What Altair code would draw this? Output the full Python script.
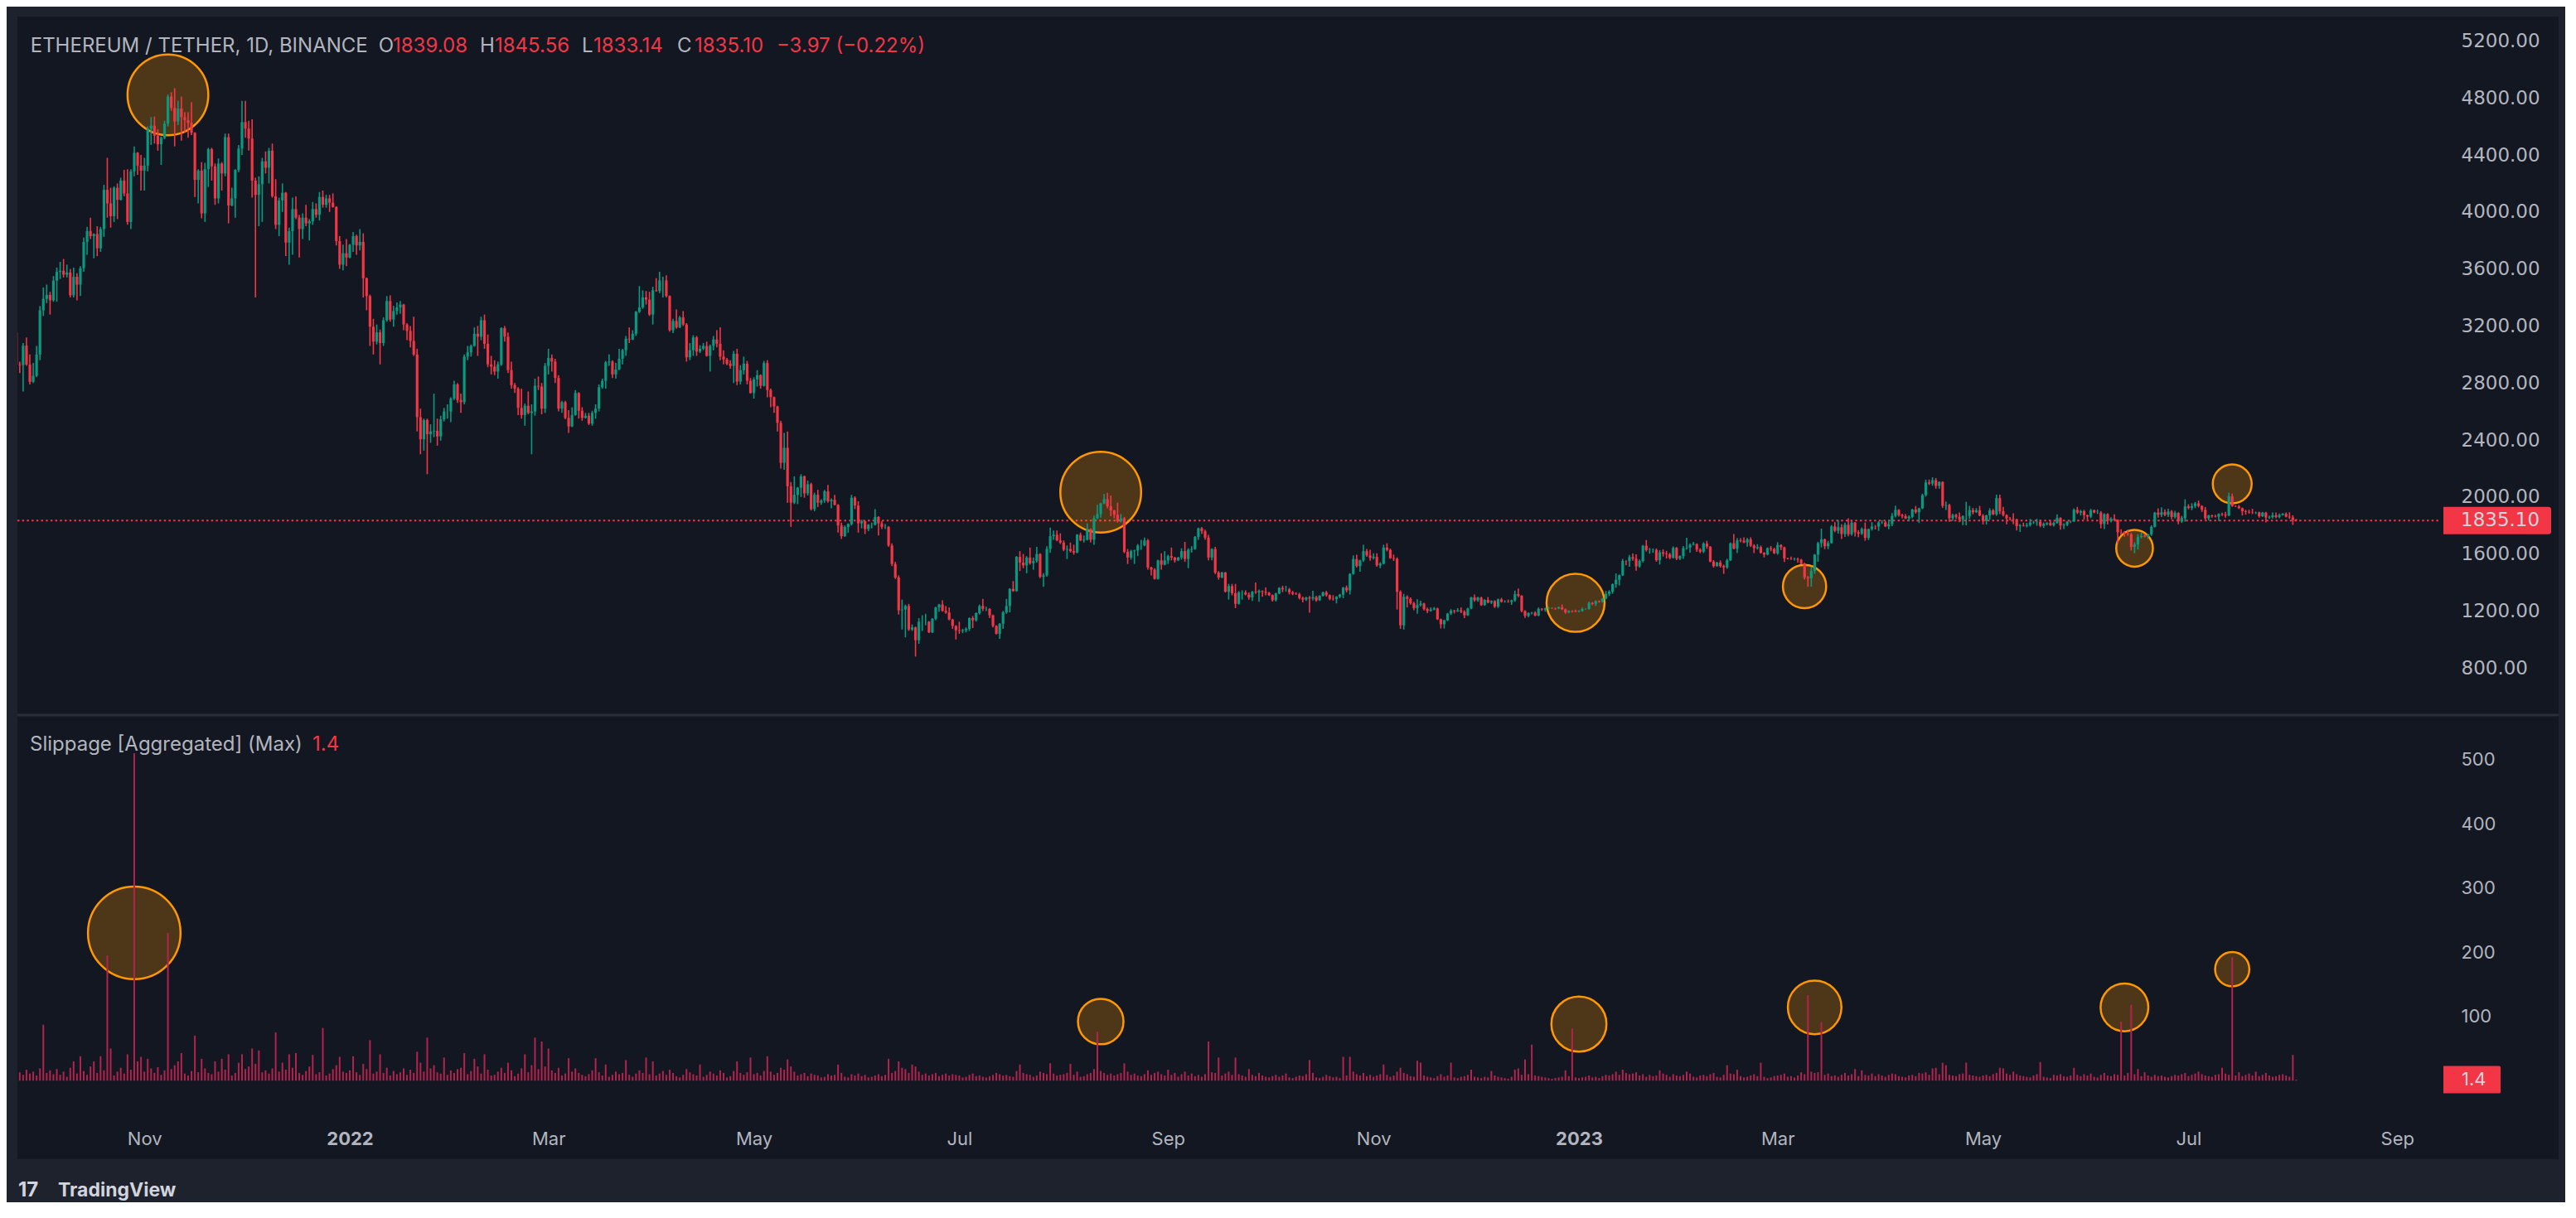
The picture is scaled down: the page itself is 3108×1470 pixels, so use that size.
import math
import altair as alt
import pandas as pd

# ------------------------------------------------------------------ data
# Daily ETH/USDT candles (Binance), 2021-09-24 .. 2023-08-02.
first_open = 3155
close = [
    # 2021 Sep 24-30
    2930, 2925, 3062, 2930, 2808, 2850, 3000,
    # 2021 Oct
    3310, 3390, 3418, 3380, 3518, 3580, 3587, 3560, 3575, 3415,
    3545, 3490, 3605, 3790, 3866, 3830, 3845, 3745, 3880, 4155,
    4060, 3970, 4170, 4085, 4220, 4130, 3930, 4285, 4415, 4325, 4290,
    # 2021 Nov
    4325, 4585, 4605, 4535, 4475, 4520, 4620, 4810, 4730, 4635,
    4725, 4665, 4645, 4625, 4555, 4225, 4290, 3990, 4300, 4440,
    4320, 4095, 4340, 4270, 4525, 4045, 4095, 4295, 4445, 4630,
    # 2021 Dec
    4585, 4515, 4220, 4120, 4195, 4355, 4310, 4430, 4110, 3910,
    4080, 4135, 3785, 3865, 4020, 3960, 3880, 3960, 3920, 3935,
    4020, 3980, 4105, 4050, 4095, 4065, 4035, 3795, 3630, 3710, 3680,
    # 2022 Jan
    3770, 3830, 3765, 3790, 3535, 3410, 3195, 3090, 3155, 3080,
    3240, 3375, 3245, 3305, 3330, 3350, 3210, 3165, 3095, 3000,
    2560, 2405, 2540, 2440, 2460, 2465, 2425, 2545, 2600, 2600, 2690,
    # 2022 Feb
    2790, 2680, 2665, 2985, 3015, 3060, 3145, 3125, 3240, 3075,
    2930, 2915, 2880, 2930, 3185, 3125, 2890, 2785, 2760, 2625,
    2575, 2640, 2590, 2600, 2780, 2775, 2620, 2920,
    # 2022 Mar
    2975, 2950, 2835, 2620, 2665, 2555, 2495, 2575, 2730, 2605,
    2555, 2570, 2515, 2590, 2620, 2770, 2815, 2945, 2950, 2860,
    2895, 2970, 3030, 3110, 3105, 3145, 3300, 3330, 3400, 3385, 3280,
    # 2022 Apr
    3450, 3445, 3520, 3520, 3410, 3170, 3235, 3190, 3260, 3210,
    2980, 3030, 3120, 3020, 3040, 3060, 2990, 3060, 3105, 3075,
    2985, 2965, 2935, 2920, 3005, 2810, 2890, 2935, 2815, 2730,
    # 2022 May
    2825, 2855, 2780, 2940, 2750, 2700, 2635, 2520, 2240, 2345,
    2075, 1960, 2015, 2065, 2145, 2025, 2090, 1915, 2015, 1960,
    1975, 2040, 1970, 1980, 1945, 1800, 1725, 1790, 1810, 1995, 1940,
    # 2022 Jun
    1815, 1830, 1775, 1805, 1805, 1860, 1815, 1790, 1790, 1660,
    1530, 1435, 1205, 1210, 1235, 1070, 1085, 995, 1125, 1125,
    1125, 1050, 1145, 1225, 1245, 1200, 1190, 1140, 1095, 1065,
    # 2022 Jul
    1060, 1065, 1075, 1150, 1135, 1185, 1235, 1215, 1215, 1170,
    1095, 1040, 1110, 1190, 1235, 1355, 1340, 1580, 1540, 1520,
    1575, 1535, 1550, 1600, 1440, 1450, 1635, 1725, 1735, 1695, 1680,
    # 2022 Aug
    1630, 1635, 1620, 1610, 1735, 1695, 1700, 1775, 1700, 1850,
    1880, 1955, 1985, 1935, 1905, 1875, 1830, 1850, 1615, 1575,
    1620, 1625, 1660, 1660, 1695, 1505, 1490, 1425, 1555, 1525, 1555,
    # 2022 Sep
    1585, 1575, 1555, 1575, 1620, 1565, 1630, 1635, 1720, 1780,
    1760, 1715, 1575, 1635, 1470, 1435, 1470, 1335, 1375, 1325,
    1250, 1330, 1330, 1315, 1295, 1335, 1330, 1340, 1335, 1328,
    # 2022 Oct
    1311, 1276, 1323, 1362, 1352, 1352, 1331, 1321, 1318, 1291,
    1280, 1295, 1288, 1297, 1275, 1306, 1331, 1311, 1286, 1283,
    1300, 1315, 1364, 1345, 1460, 1565, 1515, 1555, 1620, 1590, 1572,
    # 2022 Nov
    1580, 1520, 1532, 1645, 1628, 1571, 1566, 1335, 1100, 1300,
    1285, 1255, 1220, 1242, 1252, 1214, 1200, 1210, 1218, 1142,
    1107, 1134, 1182, 1203, 1198, 1205, 1195, 1170, 1217, 1295,
    # 2022 Dec
    1275, 1294, 1241, 1278, 1259, 1270, 1231, 1282, 1264, 1265,
    1263, 1275, 1318, 1307, 1200, 1166, 1186, 1188, 1168, 1215,
    1210, 1218, 1220, 1219, 1218, 1226, 1212, 1190, 1200, 1199, 1196,
    # 2023 Jan
    1200, 1214, 1214, 1257, 1250, 1269, 1264, 1287, 1320, 1336,
    1388, 1419, 1451, 1551, 1550, 1578, 1567, 1513, 1551, 1658,
    1627, 1628, 1629, 1556, 1612, 1602, 1598, 1573, 1643, 1567, 1585,
    # 2023 Feb
    1641, 1644, 1665, 1670, 1630, 1616, 1673, 1651, 1547, 1515,
    1540, 1515, 1506, 1556, 1675, 1637, 1696, 1692, 1681, 1702,
    1659, 1641, 1649, 1608, 1596, 1641, 1634, 1605,
    # 2023 Mar
    1663, 1647, 1569, 1566, 1564, 1565, 1560, 1533, 1436, 1430,
    1481, 1595, 1676, 1703, 1654, 1677, 1793, 1763, 1788, 1740,
    1805, 1739, 1820, 1752, 1743, 1776, 1713, 1774, 1793, 1792, 1821,
    # 2023 Apr
    1822, 1794, 1810, 1867, 1909, 1872, 1865, 1850, 1861, 1912,
    1893, 1920, 2013, 2102, 2094, 2118, 2078, 2105, 1938, 1943,
    1851, 1873, 1861, 1843, 1866, 1866, 1908, 1893, 1907, 1870,
    # 2023 May
    1832, 1871, 1906, 1878, 1992, 1900, 1873, 1849, 1846, 1843,
    1795, 1800, 1797, 1803, 1821, 1823, 1826, 1798, 1811, 1818,
    1802, 1818, 1853, 1800, 1805, 1827, 1829, 1910, 1890, 1900, 1872,
    # 2023 Jun
    1862, 1907, 1891, 1891, 1810, 1880, 1832, 1848, 1839, 1753,
    1751, 1741, 1738, 1650, 1667, 1719, 1727, 1721, 1737, 1791,
    1890, 1875, 1893, 1875, 1898, 1859, 1888, 1828, 1852, 1934,
    # 2023 Jul
    1923, 1936, 1955, 1937, 1910, 1850, 1870, 1865, 1862, 1880,
    1876, 1870, 2004, 1936, 1934, 1921, 1900, 1896, 1892, 1890,
    1892, 1865, 1890, 1856, 1859, 1871, 1860, 1874, 1882, 1862, 1857,
    # 2023 Aug 1-2
    1839.07, 1835.10,
]

# wick length above max(open, close) and below min(open, close), USD
upper_wick = [
    15, 20, 18, 58, 70, 90, 60,
    30, 80, 72, 22, 32, 30, 63, 83, 55, 25,
    65, 25, 15, 30, 29, 94, 5, 55, 15, 35,
    225, 110, 10, 30, 20, 75, 170, 15, 45, 5, 75,
    55, 15, 60, 65, 45, 10, 20, 15, 30, 138,
    55, 85, 35, 55, 145, 5, 10, 60, 45, 10,
    10, 20, 35, 10, 25, 25, 75, 5, 25, 150,
    150, 55, 135, 20, 55, 25, 70, 20, 50, 120,
    20, 65, 5, 25, 80, 90, 20, 30, 90, 15,
    50, 40, 35, 45, 25, 25, 65, 5, 35, 60, 100,
    5, 30, 10, 90, 60, 5, 10, 55, 55, 20,
    20, 35, 40, 35, 35, 25, 5, 10, 35, 170,
    40, 60, 10, 10, 50, 260, 85, 25, 25, 50, 10,
    25, 10, 45, 15, 45, 10, 45, 55, 25, 40,
    65, 60, 45, 20, 5, 15, 30, 60, 15, 10,
    135, 15, 100, 50, 50, 65, 25, 20,
    65, 25, 20, 20, 10, 10, 55, 55, 20, 5,
    25, 20, 20, 15, 30, 20, 15, 10, 50, 10,
    45, 70, 10, 20, 80, 25, 5, 150, 50, 45, 55,
    25, 85, 60, 25, 35, 5, 15, 80, 10, 45,
    10, 50, 15, 10, 25, 20, 30, 10, 25, 65,
    115, 45, 10, 25, 20, 35, 35, 50, 20, 20,
    15, 35, 5, 15, 20, 10, 5, 5, 15, 105,
    115, 30, 130, 5, 15, 5, 25, 10, 15, 35,
    10, 10, 45, 10, 35, 5, 20, 10, 5, 20, 10,
    30, 10, 5, 5, 15, 55, 5, 15, 20, 5,
    15, 15, 15, 70, 10, 15, 20, 5, 25, 45,
    55, 5, 5, 5, 5, 30, 35, 35, 5, 5,
    60, 10, 10, 5, 15, 5, 10, 50, 15, 5,
    5, 5, 5, 10, 50, 5, 55, 5, 40, 60,
    10, 70, 25, 50, 5, 15, 20, 60, 30, 30, 50,
    15, 25, 45, 45, 5, 15, 30, 40, 5, 20,
    65, 5, 35, 45, 75, 5, 85, 30, 10, 20,
    10, 5, 10, 40, 20, 10, 5, 10, 5, 50, 65,
    10, 60, 5, 5, 20, 65, 10, 20, 5, 5,
    10, 10, 20, 5, 15, 10, 5, 5, 15, 15,
    65, 10, 15, 15, 15, 5, 65, 10, 5, 30,
    5, 5, 5, 5, 15, 25, 10, 10, 10, 10,
    10, 5, 10, 45, 10, 5, 5, 10, 5, 25,
    5, 5, 5, 15, 5, 25, 30, 5, 45, 15, 40,
    25, 25, 10, 20, 30, 10, 25, 10, 10, 20,
    10, 10, 10, 40, 20, 5, 10, 15, 10, 5,
    5, 5, 5, 10, 5, 15, 20, 10, 5, 5,
    20, 5, 5, 5, 20, 5, 5, 5, 10, 10,
    15, 5, 25, 40, 5, 5, 5, 5, 10, 10,
    5, 5, 10, 5, 5, 5, 20, 5, 5, 5, 10,
    5, 10, 5, 10, 5, 5, 5, 5, 20, 10,
    5, 45, 5, 15, 5, 15, 25, 30, 10, 5,
    40, 15, 10, 10, 15, 20, 20, 10, 10, 5, 5,
    15, 70, 10, 15, 5, 10, 10, 20, 5, 10,
    5, 15, 10, 10, 5, 65, 15, 15, 25, 10,
    15, 10, 20, 10, 5, 5, 15, 10,
    20, 5, 5, 5, 15, 10, 10, 5, 5, 10,
    30, 5, 10, 75, 5, 15, 10, 30, 50, 20,
    15, 45, 10, 5, 15, 10, 45, 5, 30, 10, 10,
    15, 10, 30, 20, 30, 5, 10, 15, 10, 5,
    25, 5, 10, 20, 20, 20, 15, 5, 5, 25,
    10, 10, 10, 30, 5, 100, 30, 15, 15, 30,
    10, 5, 15, 10, 25, 25, 30, 5, 10, 40,
    5, 10, 20, 15, 25, 10, 20, 15, 10, 5,
    15, 10, 25, 5, 10, 5, 5, 10, 20, 10, 10,
    5, 10, 5, 20, 10, 5, 5, 10, 30, 5,
    20, 10, 30, 10, 15, 20, 25, 15, 5, 10,
    5, 30, 35, 20, 20, 10, 15, 5, 15, 50,
    15, 20, 10, 20, 5, 20, 5, 5, 10, 5,
    10, 20, 25, 20, 5, 10, 5, 10, 15, 25,
    5, 5, 5, 5, 10, 20, 20, 10, 5, 10, 30,
    15, 6.46,
]
lower_wick = [
    190, 55, 185, 10, 18, 8, 10,
    40, 40, 30, 100, 10, 148, 50, 20, 20, 15,
    15, 110, 80, 25, 90, 20, 155, 55, 25, 55,
    100, 80, 40, 135, 5, 20, 20, 50, 35, 65, 140,
    140, 40, 115, 55, 45, 145, 10, 20, 20, 175,
    25, 165, 85, 105, 15, 120, 165, 35, 60, 125,
    100, 45, 35, 120, 20, 125, 5, 135, 15, 45,
    65, 85, 120, 720, 220, 265, 40, 110, 10, 30,
    80, 80, 95, 155, 165, 10, 200, 70, 20, 120,
    25, 20, 40, 20, 20, 65, 5, 30, 30, 40, 60,
    5, 50, 65, 35, 135, 100, 135, 90, 20, 150,
    20, 10, 15, 50, 25, 45, 40, 65, 45, 10,
    100, 105, 80, 280, 60, 40, 65, 30, 15, 50, 75,
    10, 20, 75, 15, 25, 30, 5, 135, 25, 35,
    20, 55, 25, 50, 10, 35, 20, 25, 30, 50,
    25, 75, 10, 290, 30, 25, 40, 30,
    60, 70, 35, 20, 30, 10, 45, 5, 5, 55,
    20, 5, 10, 15, 40, 20, 10, 55, 25, 25,
    30, 5, 40, 40, 25, 5, 15, 10, 10, 35, 10,
    70, 5, 15, 120, 10, 10, 20, 10, 5, 10,
    30, 20, 40, 30, 10, 10, 5, 110, 30, 25,
    25, 35, 10, 20, 120, 25, 20, 30, 25, 5,
    40, 50, 20, 5, 50, 70, 45, 60, 40, 50,
    115, 170, 10, 65, 65, 30, 15, 10, 15, 30,
    15, 15, 10, 50, 5, 50, 20, 5, 40, 10, 25,
    65, 35, 35, 15, 25, 5, 85, 15, 15, 10,
    15, 10, 30, 135, 195, 10, 10, 115, 25, 65,
    25, 5, 5, 10, 30, 5, 10, 5, 20, 65,
    20, 15, 15, 15, 55, 10, 10, 15, 15, 20,
    10, 5, 35, 35, 10, 45, 5, 5, 60, 20,
    55, 10, 45, 10, 10, 70, 10, 25, 25, 5, 10,
    10, 65, 10, 15, 5, 5, 15, 5, 20, 35,
    5, 25, 5, 15, 40, 25, 10, 10, 10, 45,
    15, 90, 40, 30, 5, 15, 40, 5, 5, 35, 5,
    25, 20, 15, 5, 15, 20, 65, 20, 5, 20,
    20, 15, 20, 20, 10, 15, 5, 5, 55, 15,
    30, 5, 50, 5, 15, 25, 10, 65, 35, 18,
    5, 10, 10, 5, 20, 15, 15, 10, 5, 10,
    20, 10, 100, 15, 10, 5, 5, 10, 10, 10,
    30, 10, 25, 15, 30, 5, 10, 40, 10, 10, 20,
    10, 10, 20, 5, 10, 5, 15, 125, 25, 30,
    60, 10, 15, 40, 10, 10, 15, 5, 5, 5,
    30, 30, 5, 10, 15, 5, 10, 20, 5, 5,
    10, 10, 5, 5, 5, 10, 10, 10, 5, 5,
    5, 20, 10, 10, 10, 15, 10, 10, 5, 5,
    10, 15, 5, 5, 10, 5, 5, 10, 5, 10, 5,
    5, 5, 5, 5, 10, 15, 5, 5, 5, 15,
    15, 25, 40, 5, 30, 40, 15, 30, 10, 10,
    10, 25, 20, 10, 30, 20, 30, 10, 5, 10, 10,
    20, 10, 35, 5, 15, 10, 10, 15, 5, 10,
    5, 10, 45, 10, 5, 5, 30, 10, 5, 30,
    10, 35, 10, 5, 20, 5, 15, 5,
    10, 20, 25, 5, 5, 10, 20, 5, 15, 60,
    60, 20, 50, 30, 20, 20, 5, 10, 20, 35,
    20, 15, 10, 30, 25, 10, 20, 15, 10, 20, 30,
    10, 5, 20, 15, 10, 10, 15, 5, 20, 10,
    10, 75, 5, 10, 10, 15, 20, 20, 15, 30,
    25, 20, 15, 20, 40, 65, 20, 15, 5, 5,
    25, 25, 30, 5, 10, 20, 10, 40, 10, 35,
    30, 40, 5, 10, 10, 10, 25, 10, 15, 10,
    5, 10, 5, 30, 25, 10, 10, 5, 10, 20, 30,
    20, 10, 5, 10, 30, 35, 25, 10, 10, 80,
    15, 20, 10, 25, 45, 35, 10, 5, 15, 10,
    5, 20, 15, 10, 15, 15, 10, 20, 10, 25,
    10, 15, 15, 10, 15, 10, 15, 10, 5, 30,
    10, 15, 5, 5, 5, 5, 30, 20, 10, 10,
    10, 10, 5, 35, 10, 10, 10, 10, 5, 5, 10,
    35, 1.96,
]

# Slippage [Aggregated] (Max), one value per day
slippage = [
    41, 13, 9, 17, 11, 14, 8,
    19, 87, 12, 16, 10, 18, 9, 14, 6, 20, 30, 11, 38, 15, 9, 22, 30, 12, 38, 16,
    195, 50, 8, 14, 20, 11, 41, 17, 510, 30, 37,
    14, 34, 19, 12, 21, 9, 16, 230, 18, 24, 30, 43, 11, 8, 15, 70, 13, 34, 19, 12,
    10, 30, 14, 34, 17, 41, 8, 12, 28, 41,
    18, 22, 50, 26, 47, 13, 16, 11, 19, 75, 14, 28, 17, 41, 20, 43, 12, 9, 15, 22,
    40, 10, 13, 82, 8, 11, 18, 24, 37, 14, 12,
    16, 38, 13, 9, 26, 18, 63, 11, 14, 41, 12, 20, 8, 15, 10, 13, 19, 9, 17, 12,
    45, 28, 14, 67, 19, 24, 13, 11, 36, 9, 16,
    12, 18, 20, 43, 10, 15, 34, 22, 11, 41, 17, 8, 9, 14, 20, 12, 28, 16, 7, 11,
    19, 41, 13, 24, 67, 18, 61, 22,
    50, 16, 12, 20, 8, 11, 35, 14, 19, 12, 9, 7, 10, 16, 35, 13, 8, 25, 6, 9,
    14, 10, 12, 32, 9, 6, 11, 16, 12, 36, 10,
    30, 8, 11, 15, 9, 17, 12, 7, 5, 9, 18, 13, 10, 8, 25, 6, 9, 14, 11, 8,
    16, 12, 5, 7, 15, 30, 12, 9, 13, 36,
    10, 12, 8, 15, 38, 14, 9, 12, 20, 17, 33, 22, 14, 8, 10, 12, 7, 11, 9, 8,
    5, 6, 10, 8, 9, 25, 12, 6, 5, 10, 8,
    11, 7, 9, 5, 6, 8, 10, 7, 9, 34, 12, 15, 30, 20, 18, 12, 25, 22, 14, 9,
    11, 8, 10, 12, 7, 9, 11, 8, 10, 9,
    8, 5, 6, 9, 11, 7, 8, 6, 5, 7, 9, 12, 10, 8, 9, 7, 6, 15, 25, 12,
    10, 9, 6, 8, 14, 12, 10, 27, 11, 8, 9,
    10, 12, 26, 9, 14, 6, 7, 10, 12, 18, 76, 15, 12, 9, 11, 8, 10, 12, 27, 14,
    9, 11, 8, 7, 10, 16, 9, 12, 14, 10, 8,
    17, 9, 12, 6, 10, 14, 8, 11, 7, 9, 6, 10, 61, 13, 12, 36, 8, 11, 14, 9,
    36, 10, 8, 6, 18, 9, 7, 12, 8, 6,
    5, 7, 9, 6, 8, 11, 5, 4, 6, 8, 7, 10, 32, 12, 5, 4, 6, 9, 7, 5,
    6, 4, 37, 8, 37, 14, 10, 8, 12, 7, 9,
    6, 8, 10, 25, 9, 6, 8, 14, 20, 12, 10, 7, 6, 31, 28, 8, 6, 5, 4, 7,
    10, 6, 8, 28, 5, 4, 6, 7, 9, 17,
    6, 5, 4, 6, 5, 15, 8, 6, 5, 4, 3, 6, 17, 19, 9, 33, 10, 56, 8, 7,
    6, 5, 4, 3, 4, 5, 6, 16, 7, 81, 5,
    4, 5, 6, 8, 5, 6, 4, 7, 9, 8, 10, 14, 9, 17, 12, 10, 11, 13, 8, 10,
    6, 9, 7, 8, 16, 11, 9, 6, 10, 8, 7,
    9, 14, 11, 6, 5, 8, 9, 7, 10, 12, 6, 5, 9, 24, 11, 10, 17, 7, 5, 6,
    8, 10, 7, 28, 6, 4, 5, 7,
    8, 9, 11, 6, 7, 5, 8, 13, 10, 133, 14, 12, 13, 91, 9, 11, 7, 8, 6, 9,
    12, 8, 10, 18, 7, 16, 9, 8, 11, 7, 10,
    8, 6, 9, 11, 10, 7, 6, 5, 8, 9, 7, 12, 11, 13, 9, 19, 20, 10, 28, 24,
    9, 8, 7, 10, 11, 28, 9, 8, 7, 6,
    8, 9, 7, 10, 12, 20, 19, 11, 9, 14, 10, 8, 7, 6, 5, 8, 10, 29, 6, 5,
    4, 9, 8, 10, 7, 6, 8, 20, 9, 7, 10,
    8, 11, 6, 5, 9, 12, 8, 7, 10, 9, 92, 8, 12, 118, 10, 18, 7, 13, 8, 6,
    9, 7, 8, 6, 5, 7, 9, 8, 10, 12,
    7, 9, 11, 14, 10, 8, 7, 6, 9, 10, 20, 11, 9, 192, 8, 13, 7, 9, 11, 8,
    14, 7, 9, 12, 8, 6, 7, 9, 10, 8, 6,
    40, 1.4,
]

# highlighted spots (orange circles)
price_circle_dates = ["2021-11-08", "2022-08-12", "2022-12-31", "2023-03-09", "2023-06-15", "2023-07-14"]
price_circle_prices = [4822, 2034, 1257, 1372, 1640, 2092]
slip_circle_dates = ["2021-10-29", "2022-08-12", "2023-01-01", "2023-03-12", "2023-06-12", "2023-07-14"]
slip_circle_values = [230, 92, 88, 114, 114, 173.5]

# texts
symbol_text = "ETHEREUM / TETHER, 1D, BINANCE"
ohlc_letters = ["O", "H", "L", "C"]
ohlc_values = ["1839.08", "1845.56", "1833.14", "1835.10"]
change_text = "\u22123.97 (\u22120.22%)"
slip_title = "Slippage [Aggregated] (Max)"
slip_last_text = "1.4"
price_ticks = [800, 1200, 1600, 2000, 2400, 2800, 3200, 3600, 4000, 4400, 4800, 5200]
slip_ticks = [100, 200, 300, 400, 500]
time_ticks = ["2021-11-01", "2022-01-01", "2022-03-01", "2022-05-01", "2022-07-01", "2022-09-01",
              "2022-11-01", "2023-01-01", "2023-03-01", "2023-05-01", "2023-07-01", "2023-09-01"]

# ------------------------------------------------------------------ layout / style
VIEW_W, VIEW_H = 3066, 1379
VX, VY = 21, 20                     # page position of the view's top-left corner
PX_2022 = 422                       # page x of 2022-01-01
PX_PER_DAY = 4.063
PRICE_RANGE = [786.2, 29.4]         # view y of 800 and 5200
SLIP_RANGE = [1284.2, 896.7]        # view y of 0 and 500
UP, DOWN = "#089981", "#f23645"
TEXT = "#b2b5be"
BG_FRAME, BG_PANE = "#1e222d", "#131722"
ORANGE = "#ff9800"
SLIP_COLOR = "#b3234d"
LEGEND_SIZE = 24
price_circle_radius = [55, 55, 39.5, 29.5, 25, 26.5]
slip_circle_radius = [63, 31, 37.5, 36.5, 32.5, 23.3]
legend_x = [36.7, 456.8, 474, 579, 597, 702, 716, 817, 838, 937]

# ------------------------------------------------------------------ build tables
n = min(len(close), len(upper_wick), len(lower_wick), len(slippage))
dates = pd.date_range("2021-09-24", periods=n, freq="D")
opens = [first_open] + close[: n - 1]
rows = []
for i in range(n):
    o, c = opens[i], close[i]
    rows.append(dict(
        date=dates[i].strftime("%Y-%m-%d"),
        open=o, close=c,
        high=max(o, c) + upper_wick[i],
        low=min(o, c) - lower_wick[i],
        dir="up" if c >= o else "down",
        slip=slippage[i],
    ))
df = pd.DataFrame(rows)
last_df = df.tail(1)

price_circles = pd.DataFrame({
    "date": price_circle_dates, "value": price_circle_prices,
    "area": [math.pi * r * r for r in price_circle_radius]})
slip_circles = pd.DataFrame({
    "date": slip_circle_dates, "value": slip_circle_values,
    "area": [math.pi * r * r for r in slip_circle_radius]})

ms_day = 86400000
t2022 = pd.Timestamp("2022-01-01", tz="UTC").value // 10**6
dom0 = t2022 + (VX - PX_2022) / PX_PER_DAY * ms_day
dom1 = t2022 + (VX + VIEW_W - PX_2022) / PX_PER_DAY * ms_day
tick_ms = [pd.Timestamp(t, tz="UTC").value // 10**6 for t in time_ticks]

x_scale = alt.Scale(type="utc", domain=[dom0, dom1], range=[0, VIEW_W])
time_axis = alt.Axis(
    orient="bottom", offset=-25, values=tick_ms,
    labelExpr="utcmonth(datum.value) == 0 ? utcFormat(datum.value, '%Y') : utcFormat(datum.value, '%b')",
    labelFont="Inter", labelFontSize=22, labelColor=TEXT,
    labelFontWeight={"condition": {"test": "utcmonth(datum.value) == 0", "value": "bold"}, "value": "normal"},
    labelPadding=0, labelBaseline="middle", labelFlush=False, labelOverlap=False,
    ticks=False, domain=False, grid=False, title=None)
X = alt.X("date:T", scale=x_scale, axis=time_axis)

price_scale = alt.Scale(domain=[800, 5200], range=PRICE_RANGE, nice=False, zero=False)
slip_scale = alt.Scale(domain=[0, 500], range=SLIP_RANGE, nice=False, zero=False)
price_axis = alt.Axis(
    orient="right", offset=-(VX + VIEW_W - 2969), values=price_ticks, format=".2f",
    labelFont="DejaVu Sans", labelFontSize=23, labelColor=TEXT, labelAlign="left",
    labelBaseline="middle", labelPadding=0, labelOverlap=False, labelFlush=False,
    ticks=False, domain=False, grid=False, title=None)
slip_axis = alt.Axis(
    orient="right", offset=-(VX + VIEW_W - 2969), values=slip_ticks, format="d",
    labelFont="Inter", labelFontSize=22, labelColor=TEXT, labelAlign="left",
    labelBaseline="middle", labelPadding=0, labelOverlap=False, labelFlush=False,
    ticks=False, domain=False, grid=False, title=None)
color_enc = alt.Color("dir:N", scale=alt.Scale(domain=["up", "down"], range=[UP, DOWN]), legend=None)

base = alt.Chart(df)

separator = alt.Chart(last_df).mark_rule(color="#2a2e39", strokeWidth=3).encode(
    x=alt.value(0), x2=alt.value(VIEW_W), y=alt.value(863 - VY))

last_line = alt.Chart(last_df).mark_rule(color=DOWN, strokeWidth=2, strokeDash=[2.5, 3.2]).encode(
    x=alt.value(0), x2=alt.value(2945 - VX),
    y=alt.Y("close:Q", scale=price_scale, axis=None))

circle_style = dict(shape="circle", filled=True, fill=ORANGE, fillOpacity=0.25,
                    stroke=ORANGE, strokeWidth=2.5, strokeOpacity=1, opacity=1, clip=True)
price_circle_layer = alt.Chart(price_circles).mark_point(**circle_style).encode(
    x=X, y=alt.Y("value:Q", scale=price_scale, axis=None),
    size=alt.Size("area:Q", scale=None, legend=None))
slip_circle_layer = alt.Chart(slip_circles).mark_point(**circle_style).encode(
    x=X, y=alt.Y("value:Q", scale=slip_scale, axis=None),
    size=alt.Size("area:Q", scale=None, legend=None))

slip_bars = base.mark_rule(color=SLIP_COLOR, strokeWidth=2, clip=True).encode(
    x=X, y=alt.Y("slip:Q", scale=slip_scale, axis=slip_axis), y2=alt.datum(0))

wicks = base.mark_rule(strokeWidth=1.6, clip=True).encode(
    x=X, y=alt.Y("low:Q", scale=price_scale, axis=price_axis), y2="high:Q", color=color_enc)
bodies = base.mark_rule(strokeWidth=3.2, strokeCap="butt", clip=True).encode(
    x=X, y=alt.Y("open:Q", scale=price_scale, axis=None), y2="close:Q", color=color_enc)


def box_path(w, h):
    k = h / w
    return f"M-1,{-k}L0.95,{-k}Q1,{-k} 1,{-k + 0.05}L1,{k - 0.05}Q1,{k} 0.95,{k}L-1,{k}Z"


price_box = alt.Chart(last_df).mark_point(
    shape=box_path(130, 33), size=130 * 130, filled=True, fill=DOWN, strokeWidth=0, opacity=1).encode(
    x=alt.value((2948 + 3078) / 2 - VX), y=alt.Y("close:Q", scale=price_scale, axis=None))
price_box_text = alt.Chart(last_df).mark_text(
    align="left", baseline="middle", font="DejaVu Sans", fontSize=23, color="#d1d4dc").encode(
    x=alt.value(2969 - VX), y=alt.Y("close:Q", scale=price_scale, axis=None),
    text=alt.Text("close:Q", format=".2f"))
slip_box = alt.Chart(last_df).mark_point(
    shape=box_path(69, 33), size=69 * 69, filled=True, fill=DOWN, strokeWidth=0, opacity=1).encode(
    x=alt.value((2948 + 3017) / 2 - VX), y=alt.Y("slip:Q", scale=slip_scale, axis=None))
slip_box_text = alt.Chart(last_df).mark_text(
    align="left", baseline="middle", font="Inter", fontSize=22, color="#d1d4dc").encode(
    x=alt.value(2970 - VX), y=alt.Y("slip:Q", scale=slip_scale, axis=None),
    text=alt.Text("slip:Q", format=".1f"))


def label(text, px, py, color, size=LEGEND_SIZE, font="Inter", weight="normal"):
    return alt.Chart(pd.DataFrame({"t": [text]})).mark_text(
        align="left", baseline="middle", font=font, fontSize=size, fontWeight=weight, color=color).encode(
        x=alt.value(px - VX), y=alt.value(py - VY), text="t:N")


legend_texts = [symbol_text]
legend_colors = [TEXT]
for letter, val in zip(ohlc_letters, ohlc_values):
    legend_texts += [letter, val]
    legend_colors += [TEXT, DOWN]
legend_texts.append(change_text)
legend_colors.append(DOWN)
legend_layers = [label(t, x, 56, c) for t, x, c in zip(legend_texts, legend_x, legend_colors)]

slip_legend = [label(slip_title, 36, 899, TEXT), label(slip_last_text, 377, 899, DOWN)]
logo = [label("17", 22, 1437, "#d1d4dc", size=24, weight="bold"),
        label("TradingView", 70, 1437, "#d1d4dc", size=23, weight="bold")]

chart = alt.layer(
    separator, last_line, price_circle_layer, slip_circle_layer, slip_bars, wicks, bodies,
    price_box, price_box_text, slip_box, slip_box_text,
    *legend_layers, *slip_legend, *logo,
).resolve_scale(y="independent").properties(
    width=VIEW_W, height=VIEW_H,
    padding={"left": 13, "top": 12, "right": 8, "bottom": 52},
    autosize=alt.AutoSizeParams(type="none"),
).configure(background=BG_FRAME).configure_view(fill=BG_PANE, stroke=None)

chart.save("out.html", embed_options={"renderer": "svg", "actions": False})
